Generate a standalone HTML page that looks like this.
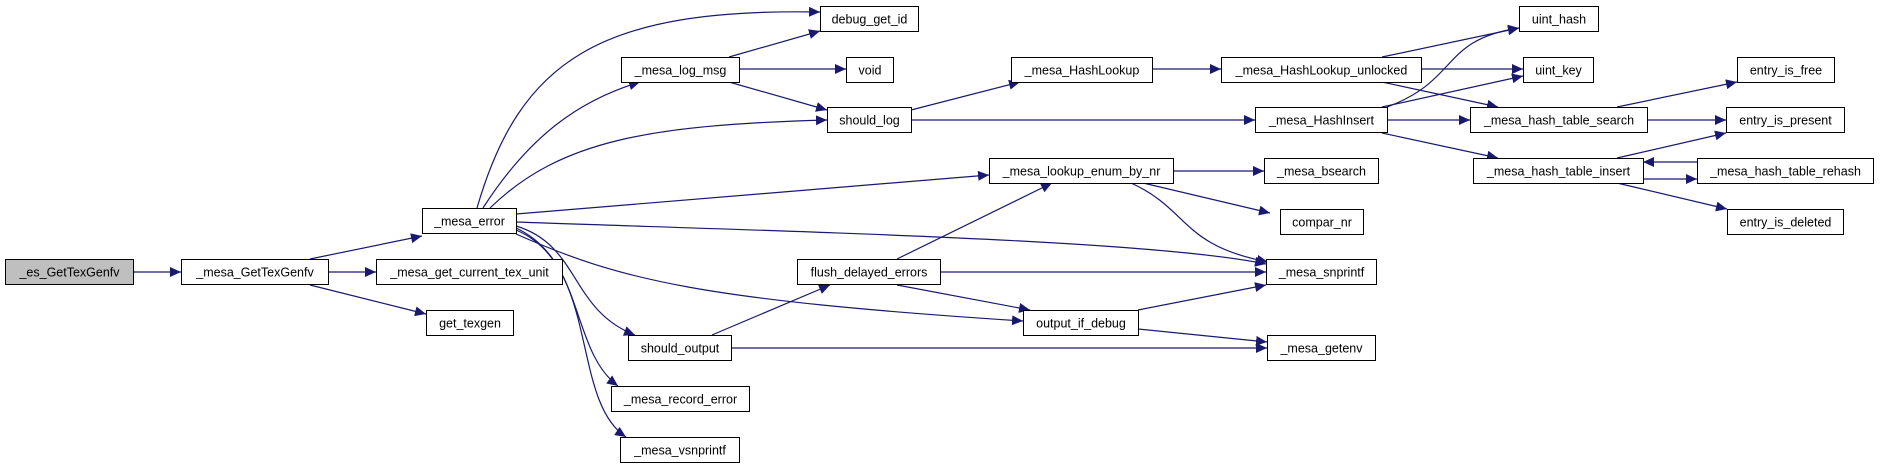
<!DOCTYPE html>
<html><head><meta charset="utf-8"><style>
html,body{margin:0;padding:0;background:#fff;}
svg{display:block;}
text{font-family:"Liberation Sans",sans-serif;font-size:12.5px;fill:#000;}
</style></head><body>
<svg width="1880" height="468" viewBox="0 0 1880 468" xmlns="http://www.w3.org/2000/svg">
<defs>
<marker id="a" markerUnits="userSpaceOnUse" markerWidth="12" markerHeight="10" refX="11" refY="5" orient="auto">
<path d="M0,0 L11,5 L0,10 z" fill="#191970"/>
</marker>
</defs>
<g fill="none" stroke="#191970" stroke-width="1.2" marker-end="url(#a)">
<path d="M133,272 L181,272"/>
<path d="M310,259 L422,236"/>
<path d="M328,272 L376,272"/>
<path d="M310,285 L426,314"/>
<path d="M477,208 C520,60 600,8 820,12"/>
<path d="M483,208 C530,135 580,100 640,82"/>
<path d="M490,208 C560,140 650,125 827,120"/>
<path d="M516,214 L989,175"/>
<path d="M516,222 C800,232 1150,240 1266,264"/>
<path d="M516,234 C620,280 700,300 1023,321"/>
<path d="M516,226 C580,245 570,310 635,335"/>
<path d="M516,228 C585,260 570,350 618,386"/>
<path d="M516,230 C600,265 570,400 626,437"/>
<path d="M729,57 L820,31"/>
<path d="M739,69 L846,69"/>
<path d="M729,82 L827,110"/>
<path d="M911,110 L1020,82"/>
<path d="M911,120 L1255,120"/>
<path d="M1152,69 L1221,69"/>
<path d="M1382,57 L1519,28"/>
<path d="M1421,69 L1523,69"/>
<path d="M1382,82 L1498,107"/>
<path d="M1387,107 C1460,80 1440,40 1519,28"/>
<path d="M1382,107 L1523,76"/>
<path d="M1387,120 L1470,120"/>
<path d="M1382,133 L1498,158"/>
<path d="M1617,107 L1737,82"/>
<path d="M1647,120 L1726,120"/>
<path d="M1617,158 L1726,133"/>
<path d="M1697,162 L1643,162"/>
<path d="M1643,179 L1697,179"/>
<path d="M1617,183 L1727,209"/>
<path d="M1173,171 L1264,171"/>
<path d="M1143,183 L1270,213"/>
<path d="M1131,183 C1190,210 1180,245 1268,262"/>
<path d="M897,259 L1052,183"/>
<path d="M940,272 L1266,272"/>
<path d="M897,285 L1030,310"/>
<path d="M1138,310 L1266,285"/>
<path d="M1138,329 L1267,342"/>
<path d="M712,335 L830,285"/>
<path d="M731,348 L1267,348"/>
</g>
<g stroke="#000" stroke-width="1" fill="#fff">
<rect x="5.5" y="259.5" width="128" height="25" fill="#bfbfbf"/>
<rect x="181.5" y="259.5" width="147" height="25"/>
<rect x="376.5" y="259.5" width="186" height="25"/>
<rect x="426.5" y="310.5" width="87" height="25"/>
<rect x="422.5" y="208.5" width="94" height="25"/>
<rect x="820.5" y="6.5" width="98" height="25"/>
<rect x="621.5" y="57.5" width="118" height="25"/>
<rect x="846.5" y="57.5" width="47" height="25"/>
<rect x="827.5" y="107.5" width="84" height="25"/>
<rect x="797.5" y="259.5" width="143" height="25"/>
<rect x="628.5" y="335.5" width="103" height="25"/>
<rect x="611.5" y="386.5" width="138" height="25"/>
<rect x="620.5" y="437.5" width="119" height="25"/>
<rect x="1011.5" y="57.5" width="141" height="25"/>
<rect x="1221.5" y="57.5" width="200" height="25"/>
<rect x="1519.5" y="6.5" width="79" height="25"/>
<rect x="1523.5" y="57.5" width="70" height="25"/>
<rect x="1737.5" y="57.5" width="97" height="25"/>
<rect x="1255.5" y="107.5" width="132" height="25"/>
<rect x="1470.5" y="107.5" width="177" height="25"/>
<rect x="1726.5" y="107.5" width="118" height="25"/>
<rect x="989.5" y="158.5" width="184" height="25"/>
<rect x="1264.5" y="158.5" width="114" height="25"/>
<rect x="1473.5" y="158.5" width="170" height="25"/>
<rect x="1697.5" y="158.5" width="176" height="25"/>
<rect x="1280.5" y="209.5" width="83" height="25"/>
<rect x="1727.5" y="209.5" width="116" height="25"/>
<rect x="1266.5" y="259.5" width="110" height="25"/>
<rect x="1023.5" y="310.5" width="115" height="25"/>
<rect x="1267.5" y="335.5" width="108" height="25"/>
</g>
<g text-anchor="middle">
<text x="69.5" y="276.5">_es_GetTexGenfv</text>
<text x="255" y="276.5">_mesa_GetTexGenfv</text>
<text x="469.5" y="276.5">_mesa_get_current_tex_unit</text>
<text x="470" y="327.5">get_texgen</text>
<text x="469.5" y="225.5">_mesa_error</text>
<text x="869.5" y="23.5">debug_get_id</text>
<text x="680.5" y="74.5">_mesa_log_msg</text>
<text x="870" y="74.5">void</text>
<text x="869.5" y="124.5">should_log</text>
<text x="869" y="276.5">flush_delayed_errors</text>
<text x="680" y="352.5">should_output</text>
<text x="680.5" y="403.5">_mesa_record_error</text>
<text x="680" y="454.5">_mesa_vsnprintf</text>
<text x="1082" y="74.5">_mesa_HashLookup</text>
<text x="1321.5" y="74.5">_mesa_HashLookup_unlocked</text>
<text x="1559" y="23.5">uint_hash</text>
<text x="1558.5" y="74.5">uint_key</text>
<text x="1786" y="74.5">entry_is_free</text>
<text x="1321.5" y="124.5">_mesa_HashInsert</text>
<text x="1559" y="124.5">_mesa_hash_table_search</text>
<text x="1785.5" y="124.5">entry_is_present</text>
<text x="1081.5" y="175.5">_mesa_lookup_enum_by_nr</text>
<text x="1321.5" y="175.5">_mesa_bsearch</text>
<text x="1558.5" y="175.5">_mesa_hash_table_insert</text>
<text x="1785.5" y="175.5">_mesa_hash_table_rehash</text>
<text x="1322" y="226.5">compar_nr</text>
<text x="1785.5" y="226.5">entry_is_deleted</text>
<text x="1321.5" y="276.5">_mesa_snprintf</text>
<text x="1081" y="327.5">output_if_debug</text>
<text x="1321.5" y="352.5">_mesa_getenv</text>
</g>
</svg>
</body></html>
